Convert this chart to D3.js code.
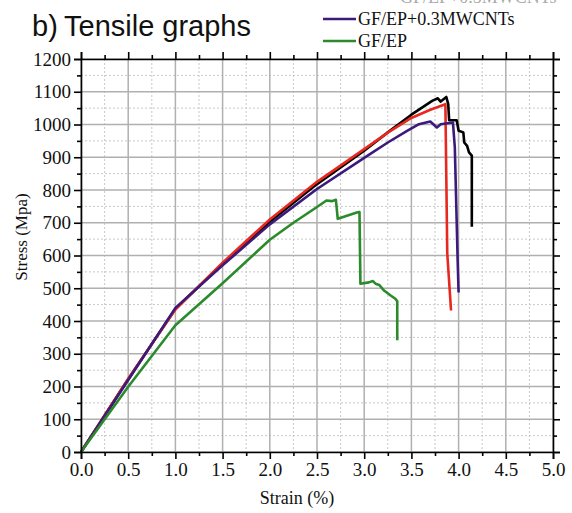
<!DOCTYPE html>
<html>
<head>
<meta charset="utf-8">
<script src="https://cdn.jsdelivr.net/npm/d3@7"></script>
<style>
  body { margin: 0; background: #fff; }
  svg { display: block; }
</style>
</head>
<body>
<svg id="chart" width="572" height="513"></svg>
<script>
// DATA (strain %, stress MPa)
const strainTicks = [0, 0.5, 1, 1.5, 2, 2.5, 3, 3.5, 4, 4.5, 5];
const stressTicks = [0, 100, 200, 300, 400, 500, 600, 700, 800, 900, 1000, 1100, 1200];

const curveBlack = [
  [0, 0], [0.5, 222], [1.0, 437], [1.5, 575], [2.0, 703], [2.5, 818], [3.0, 920],
  [3.25, 976], [3.5, 1030], [3.72, 1072], [3.78, 1080], [3.81, 1070], [3.87, 1084], [3.89, 1062],
  [3.90, 1013], [3.98, 1013], [4.0, 981], [4.05, 976], [4.06, 945], [4.09, 935],
  [4.11, 915], [4.14, 905], [4.14, 688]
];
const curveRed = [
  [0, 0], [0.5, 224], [1.0, 435], [1.5, 578], [2.0, 710], [2.5, 825], [3.0, 925],
  [3.25, 975], [3.5, 1020], [3.7, 1045], [3.86, 1062], [3.88, 606], [3.92, 432]
];
const curvePurple = [
  [0, 0], [0.5, 220], [1.0, 440], [1.5, 570], [2.0, 695], [2.5, 803], [3.0, 898],
  [3.25, 945], [3.45, 980], [3.58, 1001], [3.70, 1009], [3.77, 991], [3.81, 1001], [3.94, 1006],
  [3.96, 930], [3.99, 585], [4.0, 487]
];
const curveGreen = [
  [0, 0], [0.5, 199], [1.0, 387], [1.5, 515], [2.0, 648], [2.25, 700], [2.5, 748],
  [2.6, 768], [2.66, 766], [2.70, 770], [2.72, 712], [2.93, 732], [2.95, 733],
  [2.96, 514], [3.05, 518], [3.09, 522], [3.12, 514], [3.16, 510], [3.21, 493],
  [3.28, 478], [3.33, 468], [3.35, 460], [3.35, 341]
];

const legendLabels = ["GF/EP+0.3MWCNTs", "GF/EP"];

const svg = d3.select("#chart");
const margin = { top: 59, right: 19, bottom: 61, left: 81 };
const width = 572 - margin.left - margin.right,
  height = 513 - margin.top - margin.bottom;

const x = d3.scaleLinear().domain([0, 5]).range([0, width]);
const y = d3.scaleLinear().domain([0, 1200]).range([height, 0]);

const g = svg.append("g").attr("transform", `translate(${margin.left},${margin.top})`);

// GRID
const minorX = d3.range(0.25, 5, 0.5);
const minorY = d3.range(50, 1200, 100);

g.append("g").selectAll("line").data(minorX).join("line")
  .attr("x1", (d) => x(d)).attr("x2", (d) => x(d)).attr("y1", 0).attr("y2", height)
  .attr("stroke", "#c8c8c8").attr("stroke-width", 1).attr("stroke-dasharray", "2,2");
g.append("g").selectAll("line").data(minorY).join("line")
  .attr("y1", (d) => y(d)).attr("y2", (d) => y(d)).attr("x1", 0).attr("x2", width)
  .attr("stroke", "#c8c8c8").attr("stroke-width", 1).attr("stroke-dasharray", "2,2");
g.append("g").selectAll("line").data(strainTicks).join("line")
  .attr("x1", (d) => x(d)).attr("x2", (d) => x(d)).attr("y1", 0).attr("y2", height)
  .attr("stroke", "#b0b0b0").attr("stroke-width", 1.5);
g.append("g").selectAll("line").data(stressTicks).join("line")
  .attr("y1", (d) => y(d)).attr("y2", (d) => y(d)).attr("x1", 0).attr("x2", width)
  .attr("stroke", "#b0b0b0").attr("stroke-width", 1.5);

// CURVES
const line = d3.line().x((d) => x(d[0])).y((d) => y(d[1]));
const series = [
  { data: curveBlack, color: "#000000" },
  { data: curveRed, color: "#e8281e" },
  { data: curvePurple, color: "#3b1a7c" },
  { data: curveGreen, color: "#2b8a2b" },
];
g.append("g").selectAll("path").data(series).join("path")
  .attr("d", (d) => line(d.data))
  .attr("fill", "none")
  .attr("stroke", (d) => d.color)
  .attr("stroke-width", 2.6)
  .attr("stroke-linejoin", "round");

// AXES
const font = "'Liberation Serif', 'Times New Roman', serif";
function styleAxis(sel) {
  sel.select(".domain").attr("stroke", "#000").attr("stroke-width", 1.6);
  sel.selectAll(".tick line").attr("stroke", "#000").attr("stroke-width", 1.6);
  sel.selectAll("text").attr("font-family", font).attr("font-size", 19).attr("fill", "#111");
}
function minorAxis(sel) {
  sel.select(".domain").remove();
  sel.selectAll("text").remove();
  sel.selectAll(".tick line").attr("stroke", "#000").attr("stroke-width", 1.6);
}

const fmtX = d3.format(".1f");
g.append("g").attr("transform", `translate(0,${height})`)
  .call(d3.axisBottom(x).tickValues(strainTicks).tickFormat(fmtX).tickSizeOuter(0).tickSize(7).tickPadding(4))
  .call(styleAxis);
g.append("g").attr("transform", `translate(0,${height})`)
  .call(d3.axisBottom(x).tickValues(minorX).tickSize(4)).call(minorAxis);
g.append("g")
  .call(d3.axisTop(x).tickValues(strainTicks).tickFormat("").tickSizeOuter(0).tickSize(7))
  .call(styleAxis);
g.append("g").call(d3.axisTop(x).tickValues(minorX).tickSize(4)).call(minorAxis);

g.append("g")
  .call(d3.axisLeft(y).tickValues(stressTicks).tickFormat(d3.format("d")).tickSizeOuter(0).tickSize(7).tickPadding(3))
  .call(styleAxis);
g.append("g").call(d3.axisLeft(y).tickValues(minorY).tickSize(4)).call(minorAxis);
g.append("g").attr("transform", `translate(${width},0)`)
  .call(d3.axisRight(y).tickValues(stressTicks).tickFormat("").tickSizeOuter(0).tickSize(7))
  .call(styleAxis);
g.append("g").attr("transform", `translate(${width},0)`)
  .call(d3.axisRight(y).tickValues(minorY).tickSize(4)).call(minorAxis);

// AXIS TITLES
svg.append("text")
  .attr("x", 297).attr("y", 504)
  .attr("text-anchor", "middle")
  .attr("font-family", font).attr("font-size", 18).attr("fill", "#111")
  .text("Strain (%)");
svg.append("text")
  .attr("transform", "translate(27,237) rotate(-90)")
  .attr("text-anchor", "middle")
  .attr("font-family", font).attr("font-size", 17).attr("fill", "#111")
  .text("Stress (Mpa)");

// TITLE
svg.append("text").attr("x", 32).attr("y", 36)
  .attr("font-family", "'Liberation Sans', Arial, sans-serif").attr("font-size", 29).attr("fill", "#111")
  .text("b)");
svg.append("text").attr("x", 64).attr("y", 36)
  .attr("font-family", "'Liberation Sans', Arial, sans-serif").attr("font-size", 29).attr("fill", "#111")
  .text("Tensile graphs");

// LEGEND (upper entries are cut off by the image edge)
svg.append("text").attr("x", 400).attr("y", 3)
  .attr("font-family", font).attr("font-size", 18).attr("fill", "#aaa")
  .text("GF/EP+0.5MWCNTs");
const legend = svg.append("g").attr("transform", "translate(323,19)");
const legendItems = legend.selectAll("g").data(legendLabels).join("g")
  .attr("transform", (d, i) => `translate(0,${i * 22})`);
legendItems.append("line")
  .attr("x1", 0).attr("x2", 33).attr("y1", 0).attr("y2", 0)
  .attr("stroke", (d, i) => series[i + 2].color).attr("stroke-width", 2.6);
legendItems.append("text")
  .attr("x", 35).attr("y", 6)
  .attr("font-family", font).attr("font-size", 18).attr("fill", "#111")
  .text((d) => d);
</script>
</body>
</html>
